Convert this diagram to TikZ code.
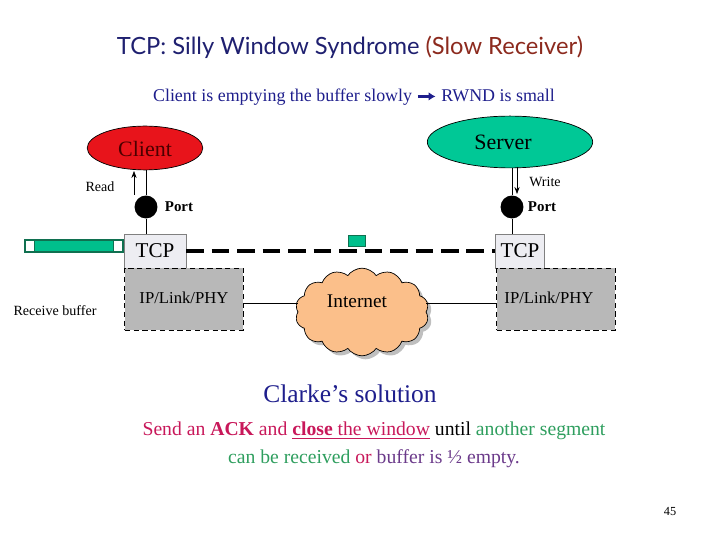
\documentclass[tikz,border=0pt]{standalone}
\usepackage{fontspec}
\setmainfont{Liberation Serif}
\newfontfamily\titlefont{Lato}
\usetikzlibrary{shapes.symbols,shapes.geometric,arrows.meta,shadows}
\definecolor{navy}{HTML}{1F2070}
\definecolor{subblue}{HTML}{1E1E8C}
\definecolor{rust}{HTML}{8C2A1E}
\definecolor{cred}{HTML}{E8141B}
\definecolor{sgreen}{HTML}{00C896}
\definecolor{bufgreen}{HTML}{00BF8C}
\definecolor{bufedge}{HTML}{107050}
\definecolor{ipgray}{HTML}{B8B8B8}
\definecolor{tcpgray}{HTML}{EDEDF2}
\definecolor{cloudfill}{HTML}{FBBF8A}
\definecolor{mag}{HTML}{C8185A}
\definecolor{tgreen}{HTML}{2E9E5E}
\definecolor{purp}{HTML}{6B3A8A}
\newcommand\ppx{0.567pt}
\tikzset{
  host/.style={ellipse,draw,inner sep=0pt},
  port/.style={circle,fill=black,minimum size={23*\ppx},inner sep=0pt},
  tcp/.style={draw=gray,fill=tcpgray,minimum width={62*\ppx},minimum height={34*\ppx},inner sep=0pt,font=\fontsize{12}{14}\selectfont},
  ip/.style={draw,densely dashed,fill=ipgray,minimum width={119*\ppx},minimum height={62*\ppx},inner sep=0pt},
  small/.style={font=\fontsize{8}{10}\selectfont},
  box/.style={draw=bufedge,inner sep=0pt},
}
\begin{document}
\begin{tikzpicture}[x=0.02cm,y=-0.02cm]
\useasboundingbox (0,0) rectangle (720,540);
% title
\node (title) at (350,47) {\titlefont\fontsize{13.5}{16}\selectfont\color{navy}TCP: Silly Window Syndrome \color{rust}(Slow Receiver)};
\node (sub) at (354,97) {\fontsize{10.2}{12}\selectfont\color{subblue}Client is emptying the buffer slowly \tikz[baseline=-0.6ex]\draw[-{Latex[length=4pt,width=5pt]},line width=1.6pt,subblue] (0,0) -- (10pt,0); RWND is small};
% hosts
\node[host,fill=cred,minimum width={116*\ppx},minimum height={44*\ppx}] (client) at (145,148) {};
\node[font=\fontsize{12.5}{14}\selectfont,text=black!70!red] at (145,149) {Client};
\node[host,fill=sgreen,minimum width={166*\ppx},minimum height={52*\ppx}] (server) at (510,142) {};
\node[font=\fontsize{12.5}{14}\selectfont] at (503,142) {Server};
% ports
\node[port] (p1) at (146,207) {};
\node[port] (p2) at (512,207) {};
\node[font=\bfseries\fontsize{8.5}{10}\selectfont] at (179,207) {Port};
\node[font=\bfseries\fontsize{8.5}{10}\selectfont] at (542,207) {Port};
% tcp and ip
\node[tcp] (t1) at (155,251) {TCP};
\node[tcp,minimum width={49*\ppx}] (t2) at (520,251) {TCP};
\node[ip] (ip1) at (184,299) {};
\node[ip] (ip2) at (556,299) {};
\node[font=\fontsize{9.5}{11}\selectfont] at (184,298) {IP/Link/PHY};
\node[font=\fontsize{9.5}{11}\selectfont] at (549,298) {IP/Link/PHY};
\node[cloud,cloud puffs=14,cloud puff arc=110,aspect=1.4,draw,fill=cloudfill,
  minimum width={134*\ppx},minimum height={88*\ppx},drop shadow={shadow xshift=2pt,shadow yshift=-2pt,fill=gray}] (net) at (362,312) {};
\node[font=\fontsize{11}{13}\selectfont] at (357,301) {Internet};
% connectors
\draw (client.south -| p1) -- (p1);
\draw (p1) -- (p1 |- t1.north);
\draw (server.south -| p2) -- (p2);
\draw (p2) -- (p2 |- t2.north);
\draw (ip1.east |- 0,303) -- (net.west |- 0,303);
\draw (net.east |- 0,303) -- (ip2.west |- 0,303);
\draw[line width=2.2pt,dash pattern=on 10pt off 4.5pt] (t1.east) -- (t2.west);
\node[box,fill=bufgreen,minimum width={17*\ppx},minimum height={11*\ppx}] (seg) at (357,241) {};
% read / write
\coordinate (r0) at (134,195); \coordinate (r1) at (134,171);
\draw[-{Stealth[length=4pt]}] (r0) -- (r1);
\node[small] at (100,187) {Read};
\coordinate (w0) at (517,167); \coordinate (w1) at (517,194);
\draw[-{Stealth[length=4pt]}] (w0) -- (w1);
\node[small] at (545,182) {Write};
% receive buffer
\node[box,fill=bufgreen,line width=1pt,minimum width={98*\ppx},minimum height={12*\ppx}] (buf) at (74,246) {};
\node[box,fill=white,minimum width={9*\ppx},minimum height={11*\ppx}] (b1) at (30,246) {};
\node[box,fill=white,minimum width={9*\ppx},minimum height={11*\ppx}] (b2) at (118,246) {};
\node[small] at (55,311) {Receive buffer};
% solution
\node at (350,394) {\fontsize{14.5}{17}\selectfont\color{subblue}Clarke’s solution};
\node[align=center,font=\fontsize{11.2}{16}\selectfont] at (374,445) {\color{mag}Send an \textbf{ACK} and \underline{\textbf{close} the window} \color{black}until \color{tgreen}another segment\\
\color{tgreen}can be received \color{mag}or \color{purp}buffer is ½ empty.};
\node[font=\fontsize{7}{8}\selectfont] at (670,512) {45};
\end{tikzpicture}
\end{document}
